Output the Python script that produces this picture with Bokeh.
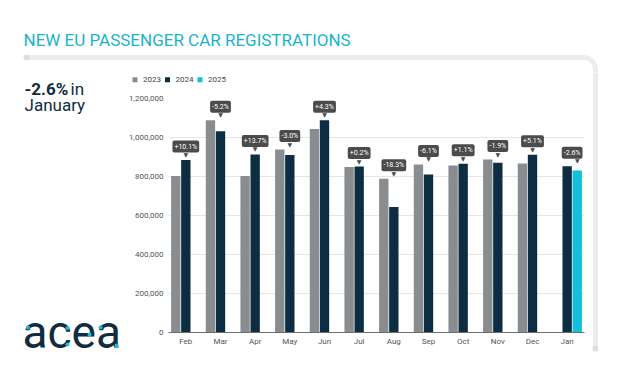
from bokeh.plotting import figure
from bokeh.models import (ColumnDataSource, FactorRange, NumeralTickFormatter, FixedTicker, Range1d)
from bokeh.layouts import column, row
from bokeh.transform import dodge
from bokeh.core.properties import value
from bokeh.embed import file_html
from bokeh.resources import INLINE
import math

NaN = float("nan")

# ---------------- data ----------------
months = ["Feb", "Mar", "Apr", "May", "Jun", "Jul", "Aug", "Sep", "Oct", "Nov", "Dec", "Jan"]
y2023 = [803000, 1089000, 803000, 938000, 1044000, 849000, 788000, 862000, 856000, 887000, 867000, NaN]
y2024 = [884000, 1032000, 913000, 910000, 1089000, 851000, 644000, 810000, 866000, 870000, 911000, 853000]
y2025 = [NaN, NaN, NaN, NaN, NaN, NaN, NaN, NaN, NaN, NaN, NaN, 831000]
changes = ["+10.1%", "-5.2%", "+13.7%", "-3.0%", "+4.3%", "+0.2%", "-18.3%", "-6.1%", "+1.1%", "-1.9%", "+5.1%", "-2.6%"]
series_names = ["2023", "2024", "2025"]
y_ticks = [0, 200000, 400000, 600000, 800000, 1000000, 1200000]
title_text = "NEW EU PASSENGER CAR REGISTRATIONS"
headline_bold = "-2.6%"
headline_rest = "in"
headline_line2 = "January"
logo_text = "acea"

# ---------------- style ----------------
C23, C24, C25 = "#8a8d8f", "#0d2d43", "#14bfdb"
NAVY = "#0f2c40"
TITLE_C = "#1ab3cc"
CALLOUT = "#4b4b4b"
CARD = "#ececec"
FONT = "Roboto"

W, H = 612, 364
TOP_H = 72          # title strip
LEG_H = 20          # legend strip
LEFT_W = 124        # headline / logo column
ML, MR, MT, MB = 44, 2, 6, 32
FW = 416
MAIN_W = ML + FW + MR
RIGHT_W = W - LEFT_W - MAIN_W
MAIN_H = H - TOP_H - LEG_H
cat_px = FW / len(months)
slot = 0.29
bw = 0.27


def blank(width, height, x0, y0):
    """A figure whose frame fills it, with pixel coordinates of the page (y down)."""
    f = figure(width=width, height=height, x_range=Range1d(x0, x0 + width),
               y_range=Range1d(y0 + height, y0), title=None,
               output_backend="svg", toolbar_location=None, min_border=0)
    f.axis.visible = False
    f.grid.visible = False
    f.outline_line_color = None
    f.background_fill_color = "white"
    f.border_fill_color = "white"
    return f


# ---------------- title strip ----------------
top = blank(W, TOP_H, 0, 0)
r = 12
cx, cy = 583, 69
xs = [26, cx]
ys = [57, 57]
for k in range(1, 12):
    a = -math.pi / 2 + k * (math.pi / 2) / 12
    xs.append(cx + r * math.cos(a))
    ys.append(cy + r * math.sin(a))
xs += [cx + r, cx + r]
ys += [cy, TOP_H + 2]
top.line(xs, ys, line_color=CARD, line_width=5, line_join="round", line_cap="round")
top.scatter([26], [57], size=6, color="#dedede", line_color=None)
top.text(x=[23], y=[39.5], text=[title_text], text_font=value(FONT), text_font_size="17px",
         text_color=TITLE_C, text_baseline="middle", text_align="left")

# ---------------- left column ----------------
left = blank(LEFT_W, H - TOP_H, 0, TOP_H)
left.text(x=[24], y=[88.3], text=[headline_bold], text_font=value(FONT), text_font_style="bold",
          text_font_size="17px", text_color=NAVY, text_baseline="middle")
left.text(x=[70], y=[88.3], text=[headline_rest], text_font=value(FONT),
          text_font_size="17px", text_color=NAVY, text_baseline="middle")
left.text(x=[24], y=[104.5], text=[headline_line2], text_font=value(FONT),
          text_font_size="17px", text_color=NAVY, text_baseline="middle")
left.text(x=[22], y=[331], text=[logo_text], text_font=value(FONT),
          text_font_size="46px", text_color=NAVY, text_baseline="middle")
left.scatter([27.5, 67, 67, 89, 100, 116], [327, 327.5, 344, 334, 327, 345],
             size=4, color=C25, line_color=None)

# ---------------- right strip ----------------
right = blank(RIGHT_W, H - TOP_H, LEFT_W + MAIN_W, TOP_H)
right.line([595, 595], [TOP_H - 2, 348], line_color=CARD, line_width=5, line_cap="round")
right.scatter([595], [348], size=6, color="#dedede", line_color=None)

# ---------------- legend strip ----------------
leg = blank(MAIN_W, LEG_H, LEFT_W, TOP_H)
leg_x = [132, 164.5, 197]
leg_colors = [C23, C24, C25]
leg.rect(x=[v + 2.5 for v in leg_x], y=[79.2] * 3, width=5, height=5,
         fill_color=leg_colors, line_color=None)
leg.text(x=[v + 10.5 for v in leg_x], y=[79.2] * 3, text=series_names,
         text_font=value(FONT), text_font_size="8px", text_color="#444444",
         text_baseline="middle", text_align="left")

# ---------------- main chart ----------------
p = figure(x_range=FactorRange(*months), y_range=(0, 1200000), width=MAIN_W, height=MAIN_H,
           output_backend="svg", toolbar_location=None,
           min_border_left=ML, min_border_right=MR, min_border_top=MT, min_border_bottom=MB)
p.outline_line_color = None
p.background_fill_color = "white"
p.border_fill_color = "white"

src = ColumnDataSource(dict(month=months, y2023=y2023, y2024=y2024, y2025=y2025,
                            top=[max(v for v in (a, b, c) if not math.isnan(v))
                                 for a, b, c in zip(y2023, y2024, y2025)],
                            change=changes))
p.vbar(x=dodge("month", -slot, range=p.x_range), top="y2023", width=bw, source=src,
       fill_color=C23, line_color=None)
p.vbar(x=dodge("month", 0, range=p.x_range), top="y2024", width=bw, source=src,
       fill_color=C24, line_color=None)
p.vbar(x=dodge("month", slot, range=p.x_range), top="y2025", width=bw, source=src,
       fill_color=C25, line_color=None)

# callouts point at the latest bar of each month; the last one is kept inside the frame
target_off = [slot * cat_px if not math.isnan(c) else 0 for c in y2025]
src.data["tri_off"] = target_off
src.data["box_off"] = target_off[:-1] + [cat_px / 2 - 2]
src.data["align"] = ["center"] * (len(months) - 1) + ["right"]
src.data["tri"] = ["\u25BC"] * len(months)

p.text(x="month", y="top", text="tri", source=src, x_offset="tri_off", y_offset=-5.5,
       text_align="center", text_baseline="middle", text_color=CALLOUT,
       text_font=value("DejaVu Sans"), text_font_size="6px")
p.text(x="month", y="top", text="change", source=src, x_offset="box_off", y_offset=-13.5,
       text_align="align", text_baseline="middle", text_color="white",
       text_font=value(FONT), text_font_size="7px",
       background_fill_color=CALLOUT, padding=2, border_radius=2)

p.yaxis.ticker = FixedTicker(ticks=y_ticks)
p.yaxis.formatter = NumeralTickFormatter(format="0,0")
p.yaxis.axis_line_color = None
p.yaxis.major_tick_line_color = None
p.yaxis.major_tick_out = 0
p.yaxis.minor_tick_line_color = None
p.yaxis.major_label_text_font = FONT
p.yaxis.major_label_text_font_size = "8px"
p.yaxis.major_label_text_color = "#555555"
p.yaxis.major_label_standoff = 5

p.xaxis.axis_line_color = "#6e6e6e"
p.xaxis.axis_line_width = 1
p.xaxis.major_tick_line_color = None
p.xaxis.major_tick_out = 0
p.xaxis.minor_tick_line_color = None
p.xaxis.major_label_text_font = FONT
p.xaxis.major_label_text_font_size = "8px"
p.xaxis.major_label_text_color = "#555555"
p.xaxis.major_label_standoff = 4

p.xgrid.grid_line_color = None
p.ygrid.grid_line_color = "#e6e6e6"
p.ygrid.grid_line_width = 1

layout = column(top, row(left, column(row(leg), p), right))
open("out.html", "w").write(file_html(layout, INLINE))
